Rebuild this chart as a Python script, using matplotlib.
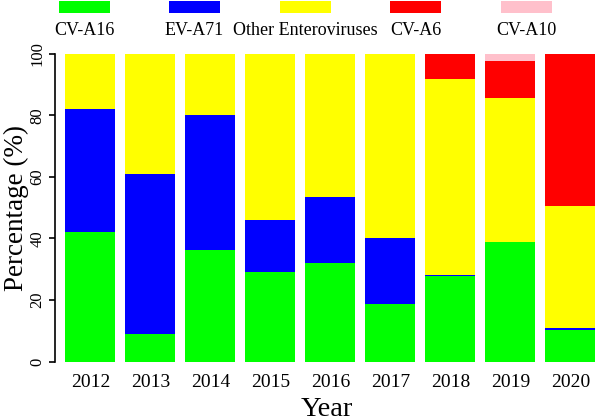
import matplotlib
matplotlib.use("Agg")
import matplotlib.pyplot as plt
from matplotlib.patches import Rectangle
import numpy as np

plt.rcParams['font.family'] = ['Liberation Serif', 'DejaVu Serif']

# data (percent per year)
years = ['2012', '2013', '2014', '2015', '2016', '2017', '2018', '2019', '2020']
cv_a16 = [42.2, 8.9, 36.2, 29.2, 31.9, 18.7, 27.7, 38.9, 10.3]
ev_a71 = [39.8, 52.2, 44.0, 16.7, 21.6, 21.6, 0.5, 0.0, 0.5]
other_ev = [18.0, 38.9, 19.8, 54.1, 46.5, 59.7, 63.7, 46.8, 39.7]
cv_a6 = [0, 0, 0, 0, 0, 0, 8.1, 11.9, 49.5]
cv_a10 = [0, 0, 0, 0, 0, 0, 0, 2.4, 0]

series_names = ['CV-A16', 'EV-A71', 'Other Enteroviruses', 'CV-A6', 'CV-A10']
series = [cv_a16, ev_a71, other_ev, cv_a6, cv_a10]
colores = ['#00FF00', '#0000FF', '#FFFF00', '#FF0000', '#FFC0CB']

fig = plt.figure(figsize=(5.98, 4.19), dpi=100)
ax = fig.add_axes([55 / 598, 57.3 / 419, 543 / 598, 308 / 419])

x = np.arange(len(years))
bottom = np.zeros(len(years))
for vals, col in zip(series, colores):
    vals = np.array(vals, dtype=float)
    ax.bar(x, vals, width=1 / 1.2, bottom=bottom, color=col, linewidth=0)
    bottom += vals

ax.set_xlim(-0.59, 8.46)
ax.set_ylim(0, 100)
ax.set_xticks(x)
ax.set_xticklabels(years, fontsize=14)
ax.tick_params(axis='x', length=0, pad=9)
ax.set_yticks([0, 20, 40, 60, 80, 100])
ax.set_yticklabels(['0', '20', '40', '60', '80', '100'], rotation=90, va='center', fontsize=12)
ax.tick_params(axis='y', length=4.5, width=1.2, pad=2.5)
for s in ['top', 'right', 'bottom']:
    ax.spines[s].set_visible(False)
ax.spines['left'].set_linewidth(1.2)

ax.set_ylabel('Percentage (%)', fontsize=19.5)
ax.yaxis.set_label_coords(-0.047, 0.5)
ax.set_xlabel('Year', fontsize=20.5, labelpad=4)

# legend: boxes on top, names below
leg = fig.add_axes([0, 0, 1, 1])
leg.set_xlim(0, 598)
leg.set_ylim(419, 0)
leg.axis('off')
for i, (nombre, col) in enumerate(zip(series_names, colores)):
    cx = 84 + i * 110.6
    leg.add_patch(Rectangle((cx - 25.5, 1), 51, 12, color=col, linewidth=0))
    leg.text(cx, 30.5, nombre, ha='center', va='center', fontsize=13)

plt.savefig("out.png", dpi=100)
